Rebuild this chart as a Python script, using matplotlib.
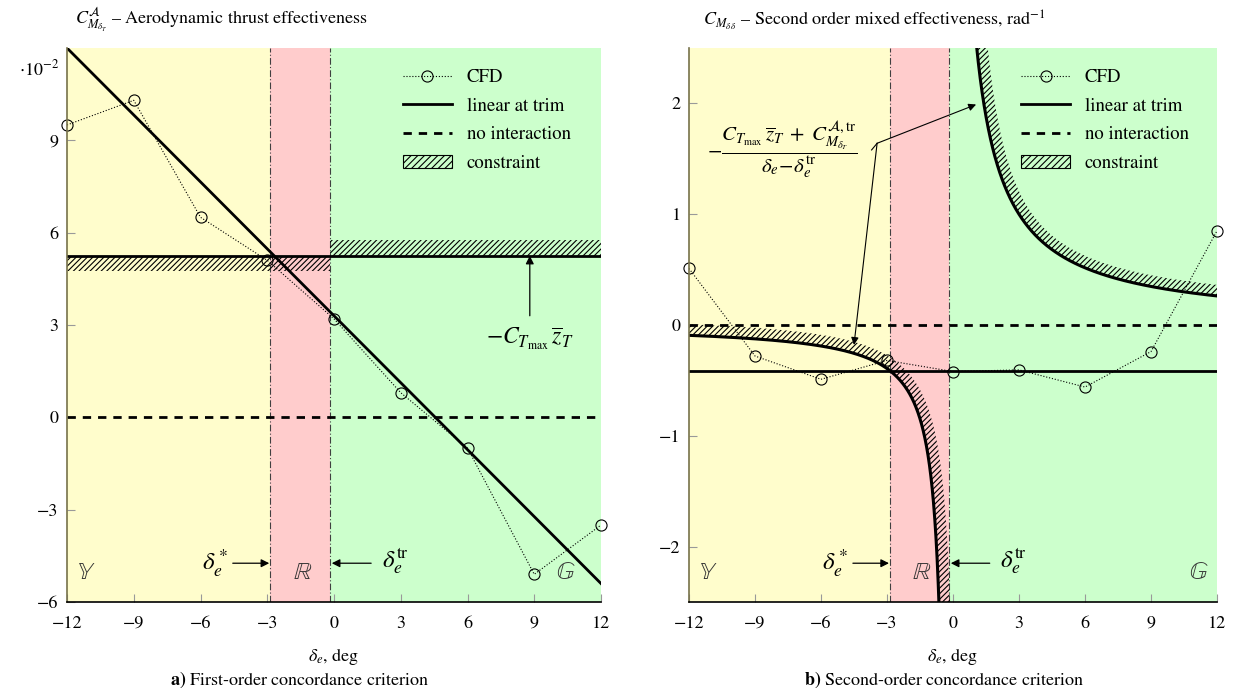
import numpy as np
import matplotlib
matplotlib.use('Agg')
import matplotlib.pyplot as plt
from matplotlib.lines import Line2D
from matplotlib.patches import Patch, Polygon

plt.rcParams['font.family'] = ['STIXGeneral', 'DejaVu Serif']
plt.rcParams['mathtext.fontset'] = 'stix'
plt.rcParams['hatch.linewidth'] = 0.8

# ---------------- data ----------------
de_cfd = [-12, -9, -6, -3, 0, 3, 6, 9, 12]
cmdT_cfd = [9.5, 10.3, 6.5, 5.1, 3.2, 0.8, -1.0, -5.1, -3.5]      # x 1e-2
cmdd_cfd = [0.51, -0.28, -0.49, -0.32, -0.42, -0.405, -0.56, -0.24, 0.85]
de_star = -2.86
de_trim = -0.2
lin_a_x = [-12, 12]
lin_a_y = [12.0, -5.4]           # linear at trim, panel a (x 1e-2)
ctz_a = 5.25                     # -C_Tmax z_T (x 1e-2)
lin_b = -0.415                   # linear at trim, panel b
K_lower = 1.1                    # constraint numerator, left branch
K_upper = 3.2                    # constraint numerator, right branch
xticks = [-12, -9, -6, -3, 0, 3, 6, 9, 12]
yticks_a = [-6, -3, 0, 3, 6, 9]
yticks_b = [-2, -1, 0, 1, 2]

C_Y = '#fffdcc'
C_R = '#ffcccc'
C_G = '#ccffcc'

fig = plt.figure(figsize=(12.39, 6.88), dpi=100)
W, H = 1239, 688
axa = fig.add_axes([67 / W, (H - 602) / H, 534 / W, 554 / H])
axb = fig.add_axes([689 / W, (H - 602) / H, 528 / W, 554 / H])


def style(ax, ylim, yticks):
    ax.set_xlim(-12, 12)
    ax.set_ylim(*ylim)
    ax.set_xticks(xticks)
    ax.set_yticks(yticks)
    for s in ['top', 'right']:
        ax.spines[s].set_visible(False)
    ax.spines['left'].set_color('#77724a')
    ax.spines['bottom'].set_color('black')
    ax.spines['left'].set_linewidth(1.2)
    ax.spines['bottom'].set_linewidth(1.2)
    for s in ax.spines.values():
        s.set_zorder(6)
    ax.tick_params(direction='in', length=6, width=0.8, color='0.6',
                   labelsize=13, pad=6)
    ax.tick_params(axis='x', pad=10)
    ax.set_xlabel(r'$\delta_e$, deg', fontsize=13, labelpad=10)
    ax.axvspan(-12, de_star, color=C_Y, zorder=0, lw=0)
    ax.axvspan(de_star, de_trim, color=C_R, zorder=0, lw=0)
    ax.axvspan(de_trim, 12, color=C_G, zorder=0, lw=0)
    for xv in (de_star, de_trim):
        ax.axvline(xv, ls=(0, (6, 2, 1, 2)), lw=0.8, color='0.25', zorder=2)
    # region letters
    ax.text(0.036, 0.03, r'$\mathbb{Y}$', transform=ax.transAxes, fontsize=18,
            color='0.2', ha='center', va='bottom', zorder=5)
    xr = (de_star + de_trim) / 2 + 0.1
    ax.text(xr, 0.03, r'$\mathbb{R}$', transform=ax.get_xaxis_transform(),
            fontsize=18, color='0.2', ha='center', va='bottom', zorder=5)
    # delta markers
    yfr = 0.07
    ax.annotate('', xy=(de_star - 0.05, yfr), xytext=(-4.55, yfr),
                xycoords=('data', 'axes fraction'),
                arrowprops=dict(arrowstyle='-|>', color='k', lw=0.9,
                                mutation_scale=12, shrinkA=0, shrinkB=0))
    ax.text(-5.35, yfr, r'$\delta_e^*$', transform=ax.get_xaxis_transform(),
            fontsize=18, ha='center', va='center')
    ax.annotate('', xy=(de_trim + 0.1, yfr), xytext=(1.67, yfr),
                xycoords=('data', 'axes fraction'),
                arrowprops=dict(arrowstyle='-|>', color='k', lw=0.9,
                                mutation_scale=12, shrinkA=0, shrinkB=0))
    ax.text(2.75, yfr + 0.005, r'$\delta_e^{\mathrm{tr}}$',
            transform=ax.get_xaxis_transform(),
            fontsize=18, ha='center', va='center')


def legend(ax):
    h = [Line2D([], [], ls=':', lw=0.8, color='k', marker='o', mfc='none',
                mec='k', ms=8, mew=0.8),
         Line2D([], [], ls='-', lw=2, color='k'),
         Line2D([], [], ls=(0, (3, 2.5)), lw=2, color='k'),
         Patch(facecolor='none', edgecolor='k', hatch='/////', lw=0.8)]
    lab = ['CFD', 'linear at trim', 'no interaction', 'constraint']
    ax.legend(h, lab, loc='upper left', bbox_to_anchor=(0.615, 0.975),
              frameon=False, fontsize=13.5, handlelength=2.6,
              handletextpad=0.8, labelspacing=0.6, borderaxespad=0)


def band(ax, x, y, width_px):
    pts = ax.transData.transform(np.column_stack([x, y]))
    d = np.gradient(pts, axis=0)
    d /= np.linalg.norm(d, axis=1)[:, None]
    n = np.column_stack([-d[:, 1], d[:, 0]])
    off = pts + n * width_px
    poly = np.vstack([pts, off[::-1]])
    data = ax.transData.inverted().transform(poly)
    ax.add_patch(Polygon(data, closed=True, facecolor='none',
                         edgecolor='k', lw=0, hatch='//////', zorder=3))


# ---------------- panel a ----------------
style(axa, (-6, 12), yticks_a)
axa.fill_between([-12, de_trim], ctz_a - 0.5, ctz_a, facecolor='none',
                 edgecolor='k', lw=0, hatch='//////', zorder=3)
axa.fill_between([de_trim, 12], ctz_a, ctz_a + 0.5, facecolor='none',
                 edgecolor='k', lw=0, hatch='//////', zorder=3)
axa.axhline(ctz_a, color='k', lw=2, zorder=4)
axa.axhline(0, color='k', lw=2, ls=(0, (3, 2.5)), zorder=4)
axa.plot(lin_a_x, lin_a_y, color='k', lw=2, zorder=4, clip_on=True)
axa.plot(de_cfd, cmdT_cfd, ls=':', lw=0.8, color='k', marker='o', mfc='none',
         mec='k', ms=8, mew=0.8, zorder=5, clip_on=False)
axa.text(0.934, 0.03, r'$\mathbb{G}$', transform=axa.transAxes, fontsize=18,
         color='0.2', ha='center', va='bottom', zorder=5)
axa.annotate('', xy=(8.8, ctz_a), xytext=(8.8, 3.3),
             arrowprops=dict(arrowstyle='-|>', color='k', lw=0.9,
                             mutation_scale=12, shrinkA=0, shrinkB=0))
axa.text(8.8, 2.55, r'$-C_{T_{\max}}\,\overline{z}_T$', fontsize=17,
         ha='center', va='center')
axa.text(-0.015, 0.962, r'$\cdot 10^{-2}$', transform=axa.transAxes,
         fontsize=13, ha='right', va='center')
legend(axa)

# ---------------- panel b ----------------
style(axb, (-2.5, 2.5), yticks_b)
axb.text(0.965, 0.03, r'$\mathbb{G}$', transform=axb.transAxes, fontsize=18,
         color='0.2', ha='center', va='bottom', zorder=5)
axb.axhline(0, color='k', lw=2, ls=(0, (3, 2.5)), zorder=4)
axb.axhline(lin_b, color='k', lw=2, zorder=4)
dl = np.geomspace(12 + de_trim, K_lower / 2.7, 500)
xl = de_trim - dl
yl = -K_lower / dl
du = np.geomspace(K_upper / 2.7, 12 - de_trim, 500)
xu = de_trim + du
yu = K_upper / du
fig.canvas.draw()
band(axb, xl, yl, 11)
band(axb, xu, yu, 11)
axb.plot(xl, yl, color='k', lw=2.2, zorder=4)
axb.plot(xu, yu, color='k', lw=2.2, zorder=4)
axb.plot(de_cfd, cmdd_cfd, ls=':', lw=0.8, color='k', marker='o', mfc='none',
         mec='k', ms=8, mew=0.8, zorder=5, clip_on=False)
# formula annotation
kx, ky = -3.45, 1.64
axb.plot([kx - 0.25, kx], [ky - 0.06, ky], color='k', lw=0.8, zorder=5)
axb.annotate('', xy=(1.05, 1.99), xytext=(kx, ky),
             arrowprops=dict(arrowstyle='-|>', color='k', lw=0.8,
                             mutation_scale=11, shrinkA=0, shrinkB=0))
axb.annotate('', xy=(-4.5, -0.18), xytext=(kx, ky),
             arrowprops=dict(arrowstyle='-|>', color='k', lw=0.8,
                             mutation_scale=11, shrinkA=0, shrinkB=0))
axb.text(-7.75, 1.58,
         r'$-\dfrac{C_{T_{\max}}\,\overline{z}_T\;+\;C^{\mathcal{A},\mathrm{tr}}_{M_{\delta_T}}}{\delta_e\!-\!\delta_e^{\mathrm{tr}}}$',
         fontsize=15, ha='center', va='center', zorder=5)
legend(axb)

# titles and captions
fig.text(75 / W, 1 - 20 / H,
         r'$C^{\mathcal{A}}_{M_{\delta_T}}$ – Aerodynamic thrust effectiveness',
         fontsize=13, ha='left', va='center')
fig.text(703 / W, 1 - 20 / H,
         r'$C_{M_{\delta\,\delta}}$ – Second order mixed effectiveness, rad$^{-1}$',
         fontsize=13, ha='left', va='center')
fig.text(300 / W, 1 - 680 / H, r'$\mathbf{a)}$ First-order concordance criterion',
         fontsize=13, ha='center', va='center')
fig.text(944 / W, 1 - 680 / H, r'$\mathbf{b)}$ Second-order concordance criterion',
         fontsize=13, ha='center', va='center')

fig.savefig('out.png', dpi=100)
